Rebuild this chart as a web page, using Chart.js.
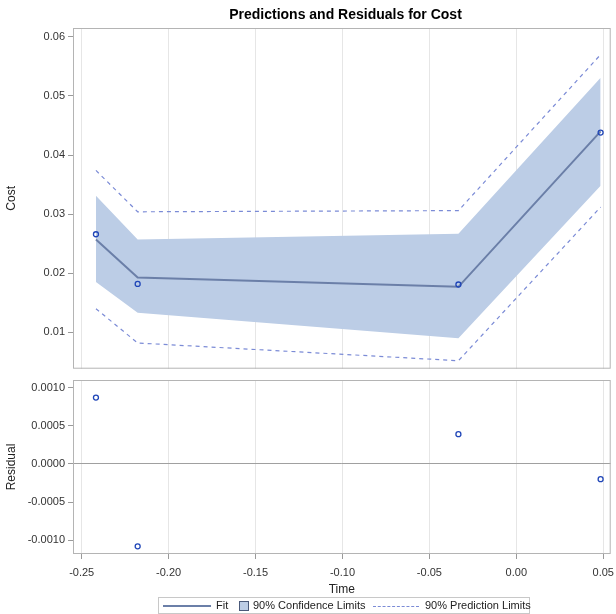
<!DOCTYPE html>
<html>
<head>
<meta charset="utf-8">
<script src="https://cdn.jsdelivr.net/npm/chart.js@4/dist/chart.umd.min.js"></script>
<style>
  body { margin: 0; background: #fff; font-family: "Liberation Sans", Arial, sans-serif; }
  #wrap { position: relative; width: 616px; height: 614px; overflow: hidden; }
  #title { position: absolute; left: 75px; width: 541px; top: 6px; text-align: center; font-weight: bold; font-size: 14px; color: #000; }
  #c1 { position: absolute; left: 0; top: 0; }
  #c2 { position: absolute; left: 0; top: 372px; }
  #legend { position: absolute; left: 158px; top: 597px; width: 372px; height: 17px; border: 1px solid #c8c8c8; box-sizing: border-box; font-size: 11px; color: #222; background: #fff; }
  #legend span { position: absolute; top: 1px; white-space: nowrap; }
  .ln { position: absolute; top: 8px; height: 0; }
</style>
</head>
<body>
<div id="wrap">
  <canvas id="c1" width="616" height="374"></canvas>
  <canvas id="c2" width="616" height="225"></canvas>
  <div id="title">Predictions and Residuals for Cost</div>
  <div id="legend">
    <div class="ln" style="left:4px;width:48px;border-top:2px solid #6b7fa8;top:7px"></div>
    <span style="left:57px">Fit</span>
    <div style="position:absolute;left:80px;top:3px;width:8px;height:8px;background:#bccde6;border:1px solid #4a5a7a"></div>
    <span style="left:94px">90% Confidence Limits</span>
    <div class="ln" style="left:214px;width:46px;border-top:1px dashed #7b8bd6"></div>
    <span style="left:266px">90% Prediction Limits</span>
  </div>
</div>
<script>
const times = [-0.2418, -0.2178, -0.0333, 0.0485];
const cost = [0.0266, 0.0182, 0.0181, 0.0438];
const fit = [0.0257, 0.0193, 0.0177, 0.0440];
const clLow = [0.0185, 0.0133, 0.0090, 0.0348];
const clHigh = [0.0331, 0.0257, 0.0267, 0.0531];
const plLow = [0.0140, 0.0082, 0.0052, 0.0312];
const plHigh = [0.0374, 0.0304, 0.0306, 0.0570];
const residual = [0.00087, -0.00108, 0.00039, -0.00020];

const xTicks = [-0.25, -0.20, -0.15, -0.10, -0.05, 0.00, 0.05];
const costTicks = [0.01, 0.02, 0.03, 0.04, 0.05, 0.06];
const residTicks = [-0.001, -0.0005, 0, 0.0005, 0.001];

const FONT = "'Liberation Sans', Arial, sans-serif";
const pts = (ys) => times.map((t, i) => ({ x: t, y: ys[i] }));

// Rahmen um die Zeichenfläche
const framePlugin = {
  id: "frame",
  afterDraw(chart) {
    const { ctx, chartArea: a } = chart;
    ctx.save();
    ctx.strokeStyle = "#b4b4b4";
    ctx.lineWidth = 1;
    ctx.strokeRect(a.left + 0.5, a.top + 0.5, a.right - a.left - 1, a.bottom - a.top - 1);
    ctx.restore();
  },
};

function yAxis(tickVals, digits, title) {
  return {
    type: "linear",
    afterFit: (s) => { s.width = 73; s.paddingTop = 0; s.paddingBottom = 0; },
    afterBuildTicks: (s) => { s.ticks = tickVals.map((v) => ({ value: v })); },
    border: { display: false },
    grid: { drawOnChartArea: false, drawTicks: true, tickLength: 5, tickColor: "#9a9a9a" },
    ticks: { color: "#333", font: { family: FONT, size: 11 }, padding: 3, callback: (v) => Number(v).toFixed(digits) },
    title: { display: true, text: title, color: "#222", font: { family: FONT, size: 12 }, padding: { top: 4, bottom: 0 } },
  };
}

const common = {
  responsive: false,
  animation: false,
  events: [],
  plugins: { legend: { display: false }, tooltip: { enabled: false } },
};

new Chart(document.getElementById("c1"), {
  type: "line",
  data: {
    datasets: [
      { data: pts(cost), showLine: false, pointRadius: 2.5, pointBorderWidth: 1.3, pointBorderColor: "#2046b8", pointBackgroundColor: "rgba(0,0,0,0)" },
      { data: pts(fit), borderColor: "#6b7fa8", borderWidth: 2, pointRadius: 0 },
      { data: pts(plHigh), borderColor: "#7b8bd6", borderWidth: 1.2, borderDash: [4, 4], pointRadius: 0 },
      { data: pts(plLow), borderColor: "#7b8bd6", borderWidth: 1.2, borderDash: [4, 4], pointRadius: 0 },
      { data: pts(clHigh), borderWidth: 0, borderColor: "rgba(0,0,0,0)", pointRadius: 0, fill: "+1", backgroundColor: "#bccde6" },
      { data: pts(clLow), borderWidth: 0, borderColor: "rgba(0,0,0,0)", pointRadius: 0 },
    ],
  },
  options: {
    ...common,
    layout: { padding: { top: 28, right: 2, bottom: 2, left: 0 } },
    scales: {
      x: {
        type: "linear", min: -0.255, max: 0.0543,
        afterBuildTicks: (s) => { s.ticks = xTicks.map((v) => ({ value: v })); },
        afterFit: (s) => { s.height = 0; s.paddingLeft = 0; s.paddingRight = 0; },
        border: { display: false },
        grid: { color: "#e6e6e6", drawTicks: false },
        ticks: { display: false },
      },
      y: { ...yAxis(costTicks, 2, "Cost"), min: 0.00385, max: 0.0615 },
    },
  },
  plugins: [framePlugin],
});

new Chart(document.getElementById("c2"), {
  type: "scatter",
  data: {
    datasets: [
      { data: pts(residual), pointRadius: 2.5, pointBorderWidth: 1.3, pointBorderColor: "#2046b8", pointBackgroundColor: "rgba(0,0,0,0)" },
    ],
  },
  options: {
    ...common,
    layout: { padding: { top: 8, right: 2, bottom: 0, left: 0 } },
    scales: {
      x: {
        type: "linear", min: -0.255, max: 0.0543,
        afterBuildTicks: (s) => { s.ticks = xTicks.map((v) => ({ value: v })); },
        afterFit: (s) => { s.height = 43; s.paddingLeft = 0; s.paddingRight = 0; },
        border: { display: false },
        grid: { color: "#e6e6e6", drawTicks: true, tickLength: 5, tickColor: "#9a9a9a" },
        ticks: { color: "#333", font: { family: FONT, size: 11 }, padding: 7, maxRotation: 0, autoSkip: false, callback: (v) => Number(v).toFixed(2) },
        title: { display: true, text: "Time", color: "#222", font: { family: FONT, size: 12 }, padding: { top: 0, bottom: 0 } },
      },
      y: {
        ...yAxis(residTicks, 4, "Residual"),
        min: -0.00118, max: 0.0011,
        grid: {
          drawOnChartArea: true, drawTicks: true, tickLength: 5, tickColor: "#9a9a9a",
          color: (c) => (c.tick && c.tick.value === 0 ? "#a0a0a0" : "rgba(0,0,0,0)"),
        },
      },
    },
  },
  plugins: [framePlugin],
});
</script>
</body>
</html>
